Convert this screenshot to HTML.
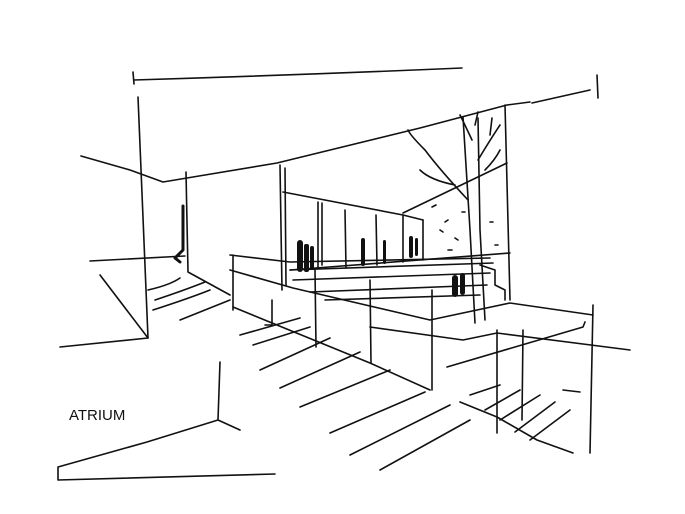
<!DOCTYPE html>
<html><head><meta charset="utf-8"><style>
html,body{margin:0;padding:0;background:#fff;}
svg{display:block;}
text{font-family:"Liberation Sans",sans-serif;}
</style></head><body>
<svg width="685" height="514" viewBox="0 0 685 514" xmlns="http://www.w3.org/2000/svg">
<rect width="685" height="514" fill="#fff"/>
<g fill="none" stroke="#111" stroke-width="1.6" stroke-linecap="round" stroke-linejoin="round">
<path d="M133,72 L134,84 M134,80 Q300,75 462,68"/>
<path d="M138,97 L148,338"/>
<path d="M81,156 L130,170 L163,182 L187,178 L277,163 L420,128 L507,105 L530,102"/>
<path d="M532,103 L590,90 M597,75 L598,98"/>
<path d="M90,261 L185,256"/>
<path d="M100,275 L148,338 L60,347"/>
<path d="M148,290 Q170,285 180,278 M155,300 Q185,290 205,282 M153,310 Q190,298 210,290 M180,320 L230,300"/>
<path d="M186,172 L188,272 L230,295"/>
<path d="M183,206 L183,250 L175,258 L180,262" stroke-width="3"/>
<path d="M280,165 L282,290 M285,168 L286,285"/>
<path d="M283,192 L403,215 L423,220"/>
<path d="M403,213 L507,163"/>
<path d="M318,202 L318,268 M322,203 L322,265 M345,210 L346,268 M376,215 L377,265 M403,215 L403,262 M423,220 L423,260"/>
<path d="M463,117 L470,230 L475,323 M478,118 L480,230 L485,320"/>
<path d="M468,200 Q440,170 425,150 Q410,135 408,130 M455,185 Q430,180 420,170 M478,160 Q490,140 500,125 M472,140 Q465,125 460,115 M485,170 Q495,160 500,150 M475,125 L478,112 M490,135 L492,118"/>
<path d="M505,105 L510,300"/>
<path d="M290,270 L510,253"/>
<path d="M290,270 L493,263 M293,280 L490,273 M310,292 L487,285 M325,300 L480,295"/>
<path d="M230,255 L290,262 L490,258"/>
<path d="M230,270 L293,288 L430,320 L510,303 L593,315"/>
<path d="M480,265 L495,270 L495,285 L505,290 L505,300"/>
<path d="M233,307 L370,363 L430,390"/>
<path d="M233,255 L233,310 M315,270 L316,347 M370,280 L371,363 M432,290 L432,390 M497,330 L497,433 M523,330 L522,420 M593,305 L590,453"/>
<path d="M272,300 L272,325 L265,325"/>
<path d="M447,367 L583,327 L585,322"/>
<path d="M370,327 L463,340 L497,333 L630,350"/>
<path d="M240,335 L300,318 M253,345 L310,327 M260,370 L330,338 M280,388 L360,352 M300,407 L390,370 M330,433 L425,392 M350,455 L450,405 M380,470 L470,420"/>
<path d="M460,402 L497,417 L537,440 L573,453"/>
<path d="M470,395 L500,385 M485,410 L520,390 M500,420 L540,395 M515,432 L555,402 M530,440 L570,410"/>
<path d="M563,390 L580,392"/>
<path d="M220,362 L218,420 L240,430 M218,420 L147,442 L58,467 L58,480 L275,474"/>
<path d="M432,207 L436,205 M445,222 L448,220 M462,212 L465,212 M440,230 L443,232 M455,238 L458,240 M448,250 L452,250 M490,222 L493,222 M495,245 L498,245"/>
</g>
<g fill="#111">
<rect x="297" y="240" width="6" height="32" rx="3"/>
<rect x="304" y="244" width="5" height="28" rx="2"/>
<rect x="310" y="246" width="4" height="24" rx="2"/>
<rect x="361" y="238" width="4" height="28" rx="2"/>
<rect x="383" y="240" width="3" height="24" rx="1.5"/>
<rect x="409" y="236" width="4" height="22" rx="2"/>
<rect x="415" y="238" width="3" height="18" rx="1.5"/>
<rect x="452" y="275" width="6" height="22" rx="3"/>
<rect x="460" y="273" width="5" height="22" rx="2.5"/>
</g>
<text x="69" y="420" font-size="15" fill="#111">ATRIUM</text>
</svg>
</body></html>
